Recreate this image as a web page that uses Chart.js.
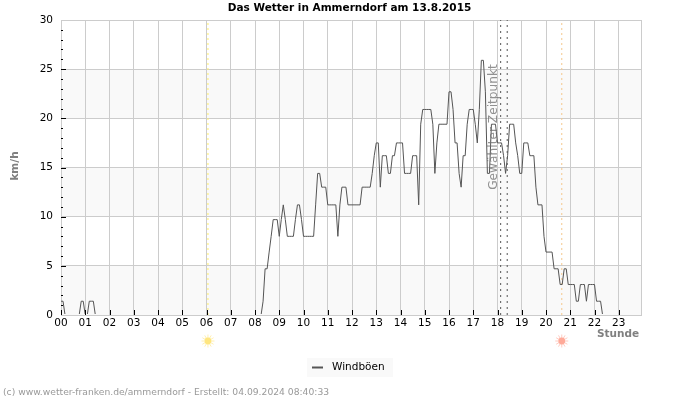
<!DOCTYPE html>
<html>
<head>
<meta charset="utf-8">
<style>
  body { margin: 0; background: #fff; }
  canvas { display: block; }
</style>
<script src="https://cdn.jsdelivr.net/npm/chart.js@4"></script>
</head>
<body>
<canvas id="wetter" width="700" height="400"></canvas>
<script>
// Windboeen in km/h, one row per hour, one value every 5 minutes
var boeen = [
  1.4, 1.4, 0, 0, 0, 0, 0, 0, 0, 0, 1.4, 1.4,                        // 00
  0, 0, 1.4, 1.4, 1.4, 0, 0, 0, 0, 0, 0, 0,                          // 01
  0, 0, 0, 0, 0, 0, 0, 0, 0, 0, 0, 0,                                // 02
  0, 0, 0, 0, 0, 0, 0, 0, 0, 0, 0, 0,                                // 03
  0, 0, 0, 0, 0, 0, 0, 0, 0, 0, 0, 0,                                // 04
  0, 0, 0, 0, 0, 0, 0, 0, 0, 0, 0, 0,                                // 05
  0, 0, 0, 0, 0, 0, 0, 0, 0, 0, 0, 0,                                // 06
  0, 0, 0, 0, 0, 0, 0, 0, 0, 0, 0, 0,                                // 07
  0, 0, 0, 0, 1.4, 4.7, 4.7, 6.4, 8, 9.7, 9.7, 9.7,                  // 08
  8, 9.7, 11.2, 9.7, 8, 8, 8, 8, 9.7, 11.2, 11.2, 9.7,               // 09
  8, 8, 8, 8, 8, 8, 11.2, 14.4, 14.4, 13, 13, 13,                    // 10
  11.2, 11.2, 11.2, 11.2, 11.2, 8, 11.2, 13, 13, 13, 11.2, 11.2,     // 11
  11.2, 11.2, 11.2, 11.2, 11.2, 13, 13, 13, 13, 13, 14.4, 16.2,      // 12
  17.5, 17.5, 13, 16.2, 16.2, 16.2, 14.4, 14.4, 16.2, 16.2, 17.5, 17.5, // 13
  17.5, 17.5, 14.4, 14.4, 14.4, 14.4, 16.2, 16.2, 16.2, 11.2, 19.4, 20.9, // 14
  20.9, 20.9, 20.9, 20.9, 19.4, 14.4, 17.5, 19.4, 19.4, 19.4, 19.4, 19.4, // 15
  22.7, 22.7, 20.9, 17.5, 17.5, 14.4, 13, 16.2, 16.2, 19.4, 20.9, 20.9,   // 16
  20.9, 19.4, 17.5, 20.9, 25.9, 25.9, 22.7, 14.4, 14.4, 19.4, 19.4, 19.4, // 17
  17.5, 17.5, 17.5, 16.2, 14.4, 16.2, 19.4, 19.4, 19.4, 17.5, 16.2, 14.4, // 18
  14.4, 17.5, 17.5, 17.5, 16.2, 16.2, 16.2, 13, 11.2, 11.2, 11.2, 8,      // 19
  6.4, 6.4, 6.4, 6.4, 4.7, 4.7, 4.7, 3.1, 3.1, 4.7, 4.7, 3.1,        // 20
  3.1, 3.1, 3.1, 1.4, 1.4, 3.1, 3.1, 3.1, 1.4, 3.1, 3.1, 3.1,        // 21
  3.1, 1.4, 1.4, 1.4, 0, 0, 0, 0, 0, 0, 0, 0,                        // 22
  0, 0, 0, 0, 0, 0, 0, 0, 0, 0, 0, 0                                 // 23
];

var stunden = [0, 1, 2, 3, 4, 5, 6, 7, 8, 9, 10, 11, 12, 13, 14, 15, 16, 17, 18, 19, 20, 21, 22, 23];
var yTicks = [0, 5, 10, 15, 20, 25, 30];
var grauBaender = [[0, 5], [10, 15], [20, 25]];

var sonnenaufgang = 6.06;
var sonnenuntergang = 20.65;
var zeitpunkt1 = 18.13;
var zeitpunkt2 = 18.4;
var letzteStunde = 23.917;

var titel = "Das Wetter in Ammerndorf am 13.8.2015";
var fussnote = "(c) www.wetter-franken.de/ammerndorf - Erstellt: 04.09.2024 08:40:33";

var punkte = [];
for (var i = 0; i < boeen.length; i++) {
  punkte.push({ x: i / 12, y: boeen[i] });
}

function senkrecht(stunde) {
  return [{ x: stunde, y: 0 }, { x: stunde, y: 30 }];
}

function sonne(ctx, x, y, farbe) {
  ctx.save();
  ctx.strokeStyle = farbe;
  ctx.fillStyle = farbe;
  ctx.lineWidth = 1;
  ctx.globalAlpha = 0.6;
  for (var a = 0; a < 12; a++) {
    var w = a * Math.PI / 6;
    ctx.beginPath();
    ctx.moveTo(x + Math.cos(w) * 3, y + Math.sin(w) * 3);
    ctx.lineTo(x + Math.cos(w) * 6.5, y + Math.sin(w) * 6.5);
    ctx.stroke();
  }
  ctx.globalAlpha = 1;
  ctx.beginPath();
  ctx.arc(x, y, 3.4, 0, Math.PI * 2);
  ctx.fill();
  ctx.restore();
}

// grey bands go below the grid, so they need beforeDraw
var baender = {
  id: "baender",
  beforeDraw: function (chart) {
    var c = chart.ctx, a = chart.chartArea, y = chart.scales.y;
    c.save();
    c.fillStyle = "#f9f9f9";
    grauBaender.forEach(function (b) {
      c.fillRect(a.left, y.getPixelForValue(b[1]), a.right - a.left, y.getPixelForValue(b[0]) - y.getPixelForValue(b[1]));
    });
    c.restore();
  }
};

// inner tick marks, labels outside the plot, legend box
var beschriftung = {
  id: "beschriftung",
  afterDraw: function (chart) {
    var c = chart.ctx, a = chart.chartArea, sx = chart.scales.x, sy = chart.scales.y;
    c.save();
    c.strokeStyle = "#000";
    c.lineWidth = 1;
    c.beginPath();
    stunden.forEach(function (h) {
      var px = Math.round(sx.getPixelForValue(h)) + 0.5;
      c.moveTo(px, a.bottom);
      c.lineTo(px, a.bottom - 5);
    });
    for (var v = 1; v < 30; v++) {
      var py = Math.round(sy.getPixelForValue(v)) + 0.5;
      c.moveTo(a.left, py);
      c.lineTo(a.left + (v % 5 == 0 ? 5 : 2), py);
    }
    c.stroke();

    sonne(c, sx.getPixelForValue(sonnenaufgang), 341, "#ffe680");
    sonne(c, sx.getPixelForValue(sonnenuntergang), 341, "#ffaa99");

    c.textBaseline = "middle";
    c.fillStyle = "#000";
    c.font = "bold 10.5px 'DejaVu Sans'";
    c.textAlign = "center";
    c.fillText(titel, 349.5, 8);

    c.fillStyle = "rgba(110,110,110,0.75)";
    c.font = "12.2px 'DejaVu Sans'";
    c.save();
    c.translate(494, 127);
    c.rotate(-Math.PI / 2);
    c.fillText("Gewählter Zeitpunkt", 0, 0);
    c.restore();

    c.fillStyle = "#808080";
    c.font = "bold 10.5px 'DejaVu Sans'";
    c.save();
    c.translate(15, 166);
    c.rotate(-Math.PI / 2);
    c.fillText("km/h", 0, 0);
    c.restore();
    c.textAlign = "left";
    c.fillText("Stunde", 597, 334);

    c.fillStyle = "#f9f9f9";
    c.fillRect(307, 358, 86, 19);
    c.strokeStyle = "#555";
    c.lineWidth = 2;
    c.beginPath();
    c.moveTo(312, 367.5);
    c.lineTo(323, 367.5);
    c.stroke();
    c.fillStyle = "#000";
    c.font = "10.5px 'DejaVu Sans'";
    c.fillText("Windböen", 332, 367);

    c.fillStyle = "#999";
    c.font = "9.2px 'DejaVu Sans'";
    c.fillText(fussnote, 3, 393);
    c.restore();
  }
};

var chart = new Chart(document.getElementById("wetter").getContext("2d"), {
  type: "line",
  data: {
    datasets: [
      { label: "Windböen", data: punkte, borderColor: "#555", borderWidth: 1, pointRadius: 0, tension: 0,
        clip: { left: 0, top: 0, right: 0, bottom: -1 } },
      { data: senkrecht(sonnenaufgang), borderColor: "#ffee66", borderWidth: 1, borderDash: [2, 3], pointRadius: 0 },
      { data: senkrecht(sonnenuntergang), borderColor: "#f5c88c", borderWidth: 1, borderDash: [2, 3], pointRadius: 0 },
      { data: senkrecht(zeitpunkt1), borderColor: "#555", borderWidth: 1, borderDash: [2, 4], pointRadius: 0 },
      { data: senkrecht(zeitpunkt2), borderColor: "#555", borderWidth: 1, borderDash: [2, 4], pointRadius: 0 }
    ]
  },
  plugins: [baender, beschriftung],
  options: {
    responsive: false,
    animation: false,
    layout: { padding: { left: 0, right: 59, top: 20, bottom: 0 } },
    plugins: {
      legend: { display: false },
      tooltip: { enabled: false }
    },
    scales: {
      x: {
        type: "linear",
        min: 0,
        max: letzteStunde,
        afterBuildTicks: function (scale) {
          scale.ticks = stunden.concat([letzteStunde]).map(function (h) { return { value: h }; });
        },
        afterFit: function (scale) { scale.height = 85; },
        grid: { color: "#ccc", lineWidth: 1, drawTicks: false },
        border: { color: "#ccc" },
        ticks: {
          color: "#000",
          font: { family: "'DejaVu Sans'", size: 10.5 },
          padding: 2,
          autoSkip: false,
          maxRotation: 0,
          callback: function (v) {
            return stunden.indexOf(v) >= 0 ? String(v).padStart(2, "0") : "";
          }
        }
      },
      y: {
        min: 0,
        max: 30,
        afterBuildTicks: function (scale) {
          scale.ticks = yTicks.map(function (v) { return { value: v }; });
        },
        afterFit: function (scale) { scale.width = 61; },
        grid: { color: "#ccc", lineWidth: 1, drawTicks: false },
        border: { color: "#ccc" },
        ticks: {
          color: "#000",
          font: { family: "'DejaVu Sans'", size: 10.5 },
          padding: 8
        }
      }
    }
  }
});
</script>
</body>
</html>
